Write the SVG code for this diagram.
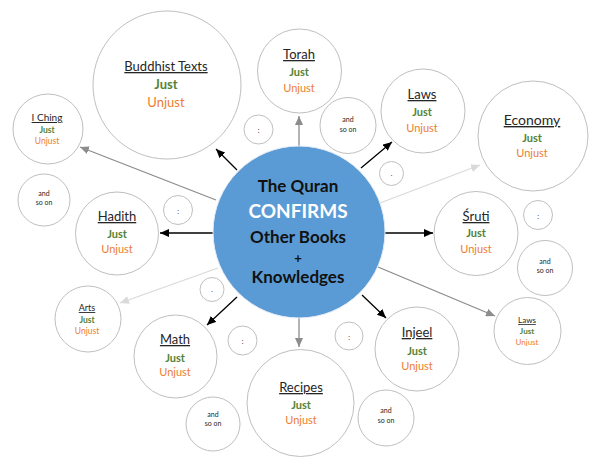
<svg xmlns="http://www.w3.org/2000/svg" width="600" height="470" viewBox="0 0 600 470">
<style>
text{font-family:"Lato","Open Sans","DejaVu Sans",sans-serif;text-anchor:middle}
.c{fill:#fff;stroke:#bfbfbf;stroke-width:1}
.t{fill:#262626;text-decoration:underline}
.j{fill:#548235;font-weight:bold}
.u{fill:#ed7d31}
.s{fill:#262626;font-size:7px}
.ln{fill:none;stroke-width:1.3}
.k{stroke:#000}
.g{stroke:#8c8c8c}
.l{stroke:#d9d9d9}
.ct{font-weight:bold;fill:#111}
</style>
<defs>
<marker id="ak" markerUnits="userSpaceOnUse" markerWidth="9" markerHeight="8" refX="9" refY="4" orient="auto"><path d="M0,0 L9,4 L0,8 z" fill="#000"/></marker>
<marker id="ag" markerUnits="userSpaceOnUse" markerWidth="9" markerHeight="8" refX="9" refY="4" orient="auto"><path d="M0,0 L9,4 L0,8 z" fill="#8c8c8c"/></marker>
<marker id="al" markerUnits="userSpaceOnUse" markerWidth="9" markerHeight="8" refX="9" refY="4" orient="auto"><path d="M0,0 L9,4 L0,8 z" fill="#d9d9d9"/></marker>
</defs>
<rect width="600" height="470" fill="#fff"/>
<g id="connectors">
<line class="ln k" x1="237" y1="170" x2="216" y2="149" marker-end="url(#ak)"/>
<line class="ln g" x1="299" y1="150" x2="299" y2="116" marker-end="url(#ag)"/>
<line class="ln k" x1="361" y1="168" x2="392" y2="142" marker-end="url(#ak)"/>
<line class="ln l" x1="380" y1="203" x2="480" y2="165" marker-end="url(#al)"/>
<line class="ln k" x1="384" y1="233" x2="433" y2="233" marker-end="url(#ak)"/>
<line class="ln g" x1="378" y1="267" x2="495" y2="316" marker-end="url(#ag)"/>
<line class="ln k" x1="362" y1="295" x2="386" y2="318" marker-end="url(#ak)"/>
<line class="ln g" x1="299" y1="316" x2="299" y2="347" marker-end="url(#ag)"/>
<line class="ln k" x1="237" y1="297" x2="207" y2="325" marker-end="url(#ak)"/>
<line class="ln l" x1="218" y1="268" x2="120" y2="303" marker-end="url(#al)"/>
<line class="ln k" x1="215" y1="233" x2="160" y2="233" marker-end="url(#ak)"/>
<line class="ln g" x1="216" y1="200" x2="80" y2="147" marker-end="url(#ag)"/>
</g>
<g id="quran">
<circle cx="299" cy="232" r="86" fill="#5b9bd5" stroke="#e8eef7" stroke-width="1"/>
<text class="ct" x="298" y="192" font-size="17">The Quran</text>
<text x="298" y="218" font-size="19" font-weight="bold" fill="#fff">CONFIRMS</text>
<text class="ct" x="298" y="243" font-size="17">Other Books</text>
<text class="ct" x="298" y="263" font-size="13">+</text>
<text class="ct" x="298" y="283" font-size="17">Knowledges</text>
</g>
<g id="buddhist">
<circle class="c" cx="167" cy="85" r="74"/>
<text class="t" x="166" y="71" font-size="13">Buddhist Texts</text>
<text class="j" x="166" y="89" font-size="13">Just</text>
<text class="u" x="166" y="107" font-size="13">Unjust</text>
</g>
<g id="torah">
<circle class="c" cx="299.5" cy="71" r="42"/>
<text class="t" x="299" y="59" font-size="13">Torah</text>
<text class="j" x="299" y="76" font-size="11">Just</text>
<text class="u" x="299" y="92" font-size="11">Unjust</text>
</g>
<g id="dots-torah">
<circle class="c" cx="258.5" cy="129.5" r="14.5"/>
<text class="s" x="258.5" y="133" font-size="9">:</text>
</g>
<g id="andso-torah">
<circle class="c" cx="348" cy="125.5" r="28"/>
<text class="s" x="348" y="122">and</text>
<text class="s" x="348" y="132">so on</text>
</g>
<g id="laws">
<circle class="c" cx="423" cy="111" r="42"/>
<text class="t" x="422" y="99" font-size="13">Laws</text>
<text class="j" x="422" y="116" font-size="11">Just</text>
<text class="u" x="422" y="132" font-size="11">Unjust</text>
</g>
<g id="dot-laws">
<circle class="c" cx="391.5" cy="173.5" r="12"/>
<text class="s" x="391.5" y="176" font-size="9">.</text>
</g>
<g id="economy">
<circle class="c" cx="533" cy="136" r="55"/>
<text class="t" x="532" y="125" font-size="14">Economy</text>
<text class="j" x="532" y="142" font-size="11">Just</text>
<text class="u" x="532" y="157" font-size="11">Unjust</text>
</g>
<g id="iching">
<circle class="c" cx="48" cy="129" r="35"/>
<text class="t" x="47" y="121" font-size="10">I Ching</text>
<text class="j" x="47" y="133" font-size="8.5">Just</text>
<text class="u" x="47" y="144" font-size="8.5">Unjust</text>
</g>
<g id="andso-left">
<circle class="c" cx="44" cy="200" r="26"/>
<text class="s" x="44" y="196">and</text>
<text class="s" x="44" y="205">so on</text>
</g>
<g id="hadith">
<circle class="c" cx="117" cy="233.5" r="41.5"/>
<text class="t" x="117" y="221" font-size="13">Hadith</text>
<text class="j" x="117" y="238" font-size="11">Just</text>
<text class="u" x="117" y="253" font-size="11">Unjust</text>
</g>
<g id="dots-hadith">
<circle class="c" cx="178" cy="210" r="14.5"/>
<text class="s" x="178" y="213.5" font-size="9">:</text>
</g>
<g id="sruti">
<circle class="c" cx="476" cy="233.5" r="42"/>
<text class="t" x="476" y="221" font-size="13">Śruti</text>
<text class="j" x="476" y="237" font-size="11">Just</text>
<text class="u" x="476" y="253" font-size="11">Unjust</text>
</g>
<g id="dots-sruti">
<circle class="c" cx="538" cy="215" r="14.5"/>
<text class="s" x="538" y="218.5" font-size="9">:</text>
</g>
<g id="andso-sruti">
<circle class="c" cx="545" cy="268" r="27.5"/>
<text class="s" x="545" y="264">and</text>
<text class="s" x="545" y="273">so on</text>
</g>
<g id="laws-small">
<circle class="c" cx="527.5" cy="331" r="33.5"/>
<text class="t" x="527" y="323" font-size="8">Laws</text>
<text class="j" x="527" y="334" font-size="8">Just</text>
<text class="u" x="527" y="345" font-size="8">Unjust</text>
</g>
<g id="injeel">
<circle class="c" cx="417" cy="349" r="42"/>
<text class="t" x="417" y="337" font-size="13">Injeel</text>
<text class="j" x="417" y="355" font-size="11">Just</text>
<text class="u" x="417" y="370" font-size="11">Unjust</text>
</g>
<g id="dots-injeel">
<circle class="c" cx="349" cy="336" r="14"/>
<text class="s" x="349" y="339.5" font-size="9">:</text>
</g>
<g id="andso-injeel">
<circle class="c" cx="386" cy="418" r="28"/>
<text class="s" x="386" y="413">and</text>
<text class="s" x="386" y="423">so on</text>
</g>
<g id="recipes">
<circle class="c" cx="300.5" cy="403" r="53.5"/>
<text class="t" x="301" y="392" font-size="13">Recipes</text>
<text class="j" x="301" y="409" font-size="11">Just</text>
<text class="u" x="301" y="424" font-size="11">Unjust</text>
</g>
<g id="dots-recipes">
<circle class="c" cx="242.5" cy="340.5" r="14.5"/>
<text class="s" x="242.5" y="344" font-size="9">:</text>
</g>
<g id="math">
<circle class="c" cx="175.5" cy="356.5" r="41.5"/>
<text class="t" x="175" y="344" font-size="13">Math</text>
<text class="j" x="175" y="362" font-size="11">Just</text>
<text class="u" x="175" y="376" font-size="11">Unjust</text>
</g>
<g id="dot-math">
<circle class="c" cx="212" cy="289.5" r="12"/>
<text class="s" x="212" y="292" font-size="9">.</text>
</g>
<g id="andso-math">
<circle class="c" cx="213" cy="424" r="27"/>
<text class="s" x="213" y="417">and</text>
<text class="s" x="213" y="426">so on</text>
</g>
<g id="arts">
<circle class="c" cx="88" cy="319" r="33"/>
<text class="t" x="87" y="311" font-size="9">Arts</text>
<text class="j" x="87" y="323" font-size="8.5">Just</text>
<text class="u" x="87" y="334" font-size="8.5">Unjust</text>
</g>
</svg>
